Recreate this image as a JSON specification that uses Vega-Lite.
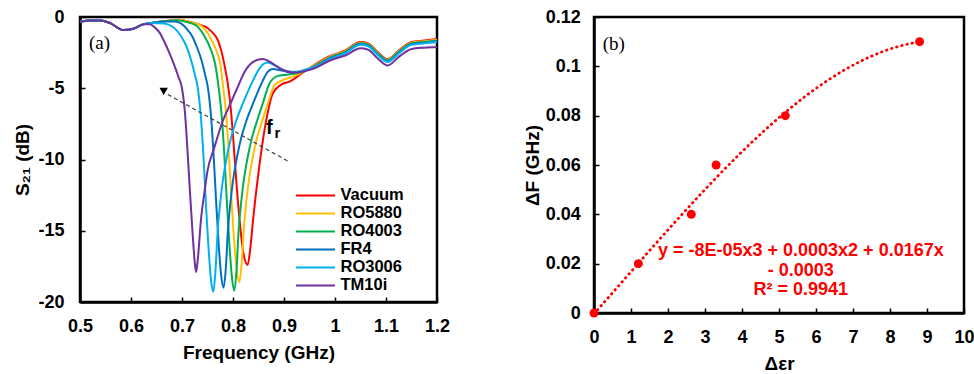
{
  "$schema": "https://vega.github.io/schema/vega-lite/v6.json",
  "padding": {"left": 12, "top": 6, "right": 0, "bottom": 0},
  "spacing": 71,
  "config": {
    "font": "Liberation Sans",
    "view": {"stroke": "#000", "strokeWidth": 2.5},
    "axis": {
      "labelFont": "Liberation Sans", "labelFontSize": 18, "labelFontWeight": "bold", "labelColor": "#000",
      "titleFont": "Liberation Sans", "titleFontSize": 19, "titleFontWeight": "bold", "titleColor": "#000",
      "domainColor": "#000", "domainWidth": 2.5, "tickColor": "#000", "tickWidth": 1.5, "tickSize": -5,
      "grid": false, "labelFlush": false, "labelOverlap": false
    }
  },
  "datasets": {
    "curves": [
      {"s":"Vacuum","f":0.5,"v":-0.32},{"s":"Vacuum","f":0.52,"v":-0.24},{"s":"Vacuum","f":0.54,"v":-0.24},{"s":"Vacuum","f":0.56,"v":-0.45},{"s":"Vacuum","f":0.585,"v":-0.92},{"s":"Vacuum","f":0.605,"v":-0.82},{"s":"Vacuum","f":0.625,"v":-0.5},{"s":"Vacuum","f":0.64,"v":-0.42},
      {"s":"Vacuum","f":0.665,"v":-0.3},{"s":"Vacuum","f":0.69,"v":-0.2},{"s":"Vacuum","f":0.72,"v":-0.38},{"s":"Vacuum","f":0.74,"v":-0.6},{"s":"Vacuum","f":0.75,"v":-0.77},{"s":"Vacuum","f":0.76,"v":-1.1},{"s":"Vacuum","f":0.77,"v":-1.6},{"s":"Vacuum","f":0.778,"v":-2.5},{"s":"Vacuum","f":0.784,"v":-3.5},{"s":"Vacuum","f":0.789,"v":-4.5},{"s":"Vacuum","f":0.7945,"v":-6.0},{"s":"Vacuum","f":0.8,"v":-8.3},{"s":"Vacuum","f":0.806,"v":-11.3},{"s":"Vacuum","f":0.813,"v":-14.3},{"s":"Vacuum","f":0.82,"v":-16.5},{"s":"Vacuum","f":0.8288,"v":-17.4},{"s":"Vacuum","f":0.834,"v":-16.2},{"s":"Vacuum","f":0.84,"v":-14.0},{"s":"Vacuum","f":0.848,"v":-11.5},{"s":"Vacuum","f":0.858,"v":-8.8},{"s":"Vacuum","f":0.8676,"v":-6.8},{"s":"Vacuum","f":0.8776,"v":-5.4},{"s":"Vacuum","f":0.894,"v":-4.75},{"s":"Vacuum","f":0.913,"v":-4.5},{"s":"Vacuum","f":0.933,"v":-4.0},{"s":"Vacuum","f":0.96,"v":-3.35},{"s":"Vacuum","f":0.99,"v":-2.75},{"s":"Vacuum","f":1.02,"v":-2.35},{"s":"Vacuum","f":1.05,"v":-1.75},{"s":"Vacuum","f":1.065,"v":-1.85},{"s":"Vacuum","f":1.085,"v":-2.5},{"s":"Vacuum","f":1.103,"v":-2.95},{"s":"Vacuum","f":1.125,"v":-2.35},{"s":"Vacuum","f":1.15,"v":-1.75},{"s":"Vacuum","f":1.175,"v":-1.65},{"s":"Vacuum","f":1.2,"v":-1.55},

      {"s":"RO5880","f":0.5,"v":-0.32},{"s":"RO5880","f":0.52,"v":-0.24},{"s":"RO5880","f":0.54,"v":-0.24},{"s":"RO5880","f":0.56,"v":-0.45},{"s":"RO5880","f":0.585,"v":-0.92},{"s":"RO5880","f":0.605,"v":-0.82},{"s":"RO5880","f":0.625,"v":-0.5},{"s":"RO5880","f":0.64,"v":-0.42},
      {"s":"RO5880","f":0.665,"v":-0.3},{"s":"RO5880","f":0.69,"v":-0.2},{"s":"RO5880","f":0.72,"v":-0.4},{"s":"RO5880","f":0.737,"v":-0.6},{"s":"RO5880","f":0.747,"v":-0.95},{"s":"RO5880","f":0.755,"v":-1.4},{"s":"RO5880","f":0.7667,"v":-2.3},{"s":"RO5880","f":0.775,"v":-3.3},{"s":"RO5880","f":0.781,"v":-5.0},{"s":"RO5880","f":0.787,"v":-7.0},{"s":"RO5880","f":0.792,"v":-9.7},{"s":"RO5880","f":0.797,"v":-12.8},{"s":"RO5880","f":0.802,"v":-15.6},{"s":"RO5880","f":0.807,"v":-17.6},{"s":"RO5880","f":0.8124,"v":-18.6},{"s":"RO5880","f":0.817,"v":-17.3},{"s":"RO5880","f":0.821,"v":-15.0},{"s":"RO5880","f":0.826,"v":-13.0},{"s":"RO5880","f":0.831,"v":-11.5},{"s":"RO5880","f":0.839,"v":-9.8},{"s":"RO5880","f":0.847,"v":-8.5},{"s":"RO5880","f":0.858,"v":-7.2},{"s":"RO5880","f":0.869,"v":-6.0},{"s":"RO5880","f":0.881,"v":-4.8},{"s":"RO5880","f":0.9,"v":-4.4},{"s":"RO5880","f":0.92,"v":-4.15},{"s":"RO5880","f":0.94,"v":-3.8},{"s":"RO5880","f":0.96,"v":-3.4},{"s":"RO5880","f":0.99,"v":-2.8},{"s":"RO5880","f":1.02,"v":-2.4},{"s":"RO5880","f":1.05,"v":-1.8},{"s":"RO5880","f":1.065,"v":-1.9},{"s":"RO5880","f":1.085,"v":-2.55},{"s":"RO5880","f":1.103,"v":-3.0},{"s":"RO5880","f":1.125,"v":-2.4},{"s":"RO5880","f":1.15,"v":-1.8},{"s":"RO5880","f":1.175,"v":-1.7},{"s":"RO5880","f":1.2,"v":-1.6},

      {"s":"RO4003","f":0.5,"v":-0.32},{"s":"RO4003","f":0.52,"v":-0.24},{"s":"RO4003","f":0.54,"v":-0.24},{"s":"RO4003","f":0.56,"v":-0.45},{"s":"RO4003","f":0.585,"v":-0.92},{"s":"RO4003","f":0.605,"v":-0.82},{"s":"RO4003","f":0.625,"v":-0.5},{"s":"RO4003","f":0.64,"v":-0.42},
      {"s":"RO4003","f":0.665,"v":-0.3},{"s":"RO4003","f":0.69,"v":-0.22},{"s":"RO4003","f":0.715,"v":-0.4},{"s":"RO4003","f":0.728,"v":-0.6},{"s":"RO4003","f":0.737,"v":-0.95},{"s":"RO4003","f":0.745,"v":-1.4},{"s":"RO4003","f":0.7567,"v":-2.3},{"s":"RO4003","f":0.765,"v":-3.3},{"s":"RO4003","f":0.772,"v":-5.0},{"s":"RO4003","f":0.778,"v":-7.0},{"s":"RO4003","f":0.783,"v":-9.7},{"s":"RO4003","f":0.788,"v":-13.0},{"s":"RO4003","f":0.793,"v":-16.0},{"s":"RO4003","f":0.798,"v":-18.3},{"s":"RO4003","f":0.8026,"v":-19.2},{"s":"RO4003","f":0.807,"v":-17.7},{"s":"RO4003","f":0.811,"v":-15.0},{"s":"RO4003","f":0.816,"v":-13.0},{"s":"RO4003","f":0.821,"v":-11.5},{"s":"RO4003","f":0.829,"v":-9.8},{"s":"RO4003","f":0.837,"v":-8.5},{"s":"RO4003","f":0.848,"v":-7.2},{"s":"RO4003","f":0.859,"v":-6.0},{"s":"RO4003","f":0.871,"v":-4.7},{"s":"RO4003","f":0.887,"v":-4.15},{"s":"RO4003","f":0.905,"v":-4.05},{"s":"RO4003","f":0.925,"v":-3.95},{"s":"RO4003","f":0.945,"v":-3.7},{"s":"RO4003","f":0.96,"v":-3.45},{"s":"RO4003","f":0.99,"v":-2.85},{"s":"RO4003","f":1.02,"v":-2.45},{"s":"RO4003","f":1.05,"v":-1.85},{"s":"RO4003","f":1.065,"v":-1.95},{"s":"RO4003","f":1.085,"v":-2.6},{"s":"RO4003","f":1.103,"v":-3.05},{"s":"RO4003","f":1.125,"v":-2.45},{"s":"RO4003","f":1.15,"v":-1.85},{"s":"RO4003","f":1.175,"v":-1.75},{"s":"RO4003","f":1.2,"v":-1.65},

      {"s":"FR4","f":0.5,"v":-0.32},{"s":"FR4","f":0.52,"v":-0.24},{"s":"FR4","f":0.54,"v":-0.24},{"s":"FR4","f":0.56,"v":-0.45},{"s":"FR4","f":0.585,"v":-0.92},{"s":"FR4","f":0.605,"v":-0.82},{"s":"FR4","f":0.625,"v":-0.5},{"s":"FR4","f":0.64,"v":-0.42},
      {"s":"FR4","f":0.665,"v":-0.32},{"s":"FR4","f":0.685,"v":-0.32},{"s":"FR4","f":0.7,"v":-0.5},{"s":"FR4","f":0.712,"v":-0.95},{"s":"FR4","f":0.72,"v":-1.35},{"s":"FR4","f":0.728,"v":-2.0},{"s":"FR4","f":0.738,"v":-3.0},{"s":"FR4","f":0.745,"v":-4.0},{"s":"FR4","f":0.751,"v":-5.0},{"s":"FR4","f":0.757,"v":-7.0},{"s":"FR4","f":0.762,"v":-9.7},{"s":"FR4","f":0.767,"v":-13.0},{"s":"FR4","f":0.772,"v":-16.0},{"s":"FR4","f":0.777,"v":-18.2},{"s":"FR4","f":0.7817,"v":-19.0},{"s":"FR4","f":0.786,"v":-17.6},{"s":"FR4","f":0.79,"v":-15.0},{"s":"FR4","f":0.795,"v":-13.0},{"s":"FR4","f":0.8,"v":-11.5},{"s":"FR4","f":0.808,"v":-9.8},{"s":"FR4","f":0.816,"v":-8.5},{"s":"FR4","f":0.827,"v":-7.2},{"s":"FR4","f":0.839,"v":-6.1},{"s":"FR4","f":0.858,"v":-4.5},{"s":"FR4","f":0.868,"v":-3.85},{"s":"FR4","f":0.8776,"v":-3.65},{"s":"FR4","f":0.895,"v":-3.75},{"s":"FR4","f":0.915,"v":-3.9},{"s":"FR4","f":0.935,"v":-3.8},{"s":"FR4","f":0.96,"v":-3.5},{"s":"FR4","f":0.99,"v":-2.9},{"s":"FR4","f":1.02,"v":-2.5},{"s":"FR4","f":1.05,"v":-1.9},{"s":"FR4","f":1.065,"v":-2.0},{"s":"FR4","f":1.085,"v":-2.65},{"s":"FR4","f":1.103,"v":-3.1},{"s":"FR4","f":1.125,"v":-2.5},{"s":"FR4","f":1.15,"v":-1.9},{"s":"FR4","f":1.175,"v":-1.8},{"s":"FR4","f":1.2,"v":-1.7},

      {"s":"RO3006","f":0.5,"v":-0.32},{"s":"RO3006","f":0.52,"v":-0.24},{"s":"RO3006","f":0.54,"v":-0.24},{"s":"RO3006","f":0.56,"v":-0.45},{"s":"RO3006","f":0.585,"v":-0.92},{"s":"RO3006","f":0.605,"v":-0.82},{"s":"RO3006","f":0.625,"v":-0.5},{"s":"RO3006","f":0.64,"v":-0.42},
      {"s":"RO3006","f":0.665,"v":-0.45},{"s":"RO3006","f":0.68,"v":-0.65},{"s":"RO3006","f":0.69,"v":-0.95},{"s":"RO3006","f":0.698,"v":-1.35},{"s":"RO3006","f":0.708,"v":-2.0},{"s":"RO3006","f":0.7176,"v":-3.0},{"s":"RO3006","f":0.725,"v":-4.0},{"s":"RO3006","f":0.731,"v":-5.0},{"s":"RO3006","f":0.737,"v":-7.0},{"s":"RO3006","f":0.742,"v":-9.7},{"s":"RO3006","f":0.747,"v":-13.2},{"s":"RO3006","f":0.752,"v":-16.2},{"s":"RO3006","f":0.757,"v":-18.5},{"s":"RO3006","f":0.7614,"v":-19.27},{"s":"RO3006","f":0.766,"v":-17.6},{"s":"RO3006","f":0.77,"v":-15.0},{"s":"RO3006","f":0.775,"v":-13.0},{"s":"RO3006","f":0.78,"v":-11.5},{"s":"RO3006","f":0.788,"v":-9.8},{"s":"RO3006","f":0.796,"v":-8.5},{"s":"RO3006","f":0.807,"v":-7.2},{"s":"RO3006","f":0.819,"v":-6.1},{"s":"RO3006","f":0.8386,"v":-4.5},{"s":"RO3006","f":0.852,"v":-3.6},{"s":"RO3006","f":0.8676,"v":-3.2},{"s":"RO3006","f":0.885,"v":-3.45},{"s":"RO3006","f":0.905,"v":-3.8},{"s":"RO3006","f":0.925,"v":-3.85},{"s":"RO3006","f":0.945,"v":-3.65},{"s":"RO3006","f":0.96,"v":-3.5},{"s":"RO3006","f":0.99,"v":-2.95},{"s":"RO3006","f":1.02,"v":-2.55},{"s":"RO3006","f":1.05,"v":-1.95},{"s":"RO3006","f":1.065,"v":-2.05},{"s":"RO3006","f":1.085,"v":-2.7},{"s":"RO3006","f":1.103,"v":-3.15},{"s":"RO3006","f":1.125,"v":-2.55},{"s":"RO3006","f":1.15,"v":-1.95},{"s":"RO3006","f":1.175,"v":-1.85},{"s":"RO3006","f":1.2,"v":-1.75},

      {"s":"TM10i","f":0.5,"v":-0.32},{"s":"TM10i","f":0.52,"v":-0.24},{"s":"TM10i","f":0.54,"v":-0.24},{"s":"TM10i","f":0.56,"v":-0.45},{"s":"TM10i","f":0.585,"v":-0.92},{"s":"TM10i","f":0.605,"v":-0.82},{"s":"TM10i","f":0.625,"v":-0.5},
      {"s":"TM10i","f":0.637,"v":-0.5},{"s":"TM10i","f":0.647,"v":-0.75},{"s":"TM10i","f":0.656,"v":-1.1},{"s":"TM10i","f":0.665,"v":-1.7},{"s":"TM10i","f":0.675,"v":-2.5},{"s":"TM10i","f":0.685,"v":-3.4},{"s":"TM10i","f":0.693,"v":-4.2},{"s":"TM10i","f":0.7,"v":-5.0},{"s":"TM10i","f":0.706,"v":-6.8},{"s":"TM10i","f":0.711,"v":-9.5},{"s":"TM10i","f":0.716,"v":-12.5},{"s":"TM10i","f":0.721,"v":-15.3},{"s":"TM10i","f":0.7245,"v":-17.0},{"s":"TM10i","f":0.7275,"v":-17.9},{"s":"TM10i","f":0.731,"v":-17.0},{"s":"TM10i","f":0.737,"v":-14.3},{"s":"TM10i","f":0.744,"v":-12.3},{"s":"TM10i","f":0.75,"v":-10.8},{"s":"TM10i","f":0.763,"v":-9.2},{"s":"TM10i","f":0.78,"v":-7.3},{"s":"TM10i","f":0.796,"v":-6.0},{"s":"TM10i","f":0.81,"v":-4.85},{"s":"TM10i","f":0.822,"v":-3.9},{"s":"TM10i","f":0.842,"v":-3.1},{"s":"TM10i","f":0.858,"v":-2.95},{"s":"TM10i","f":0.875,"v":-3.2},{"s":"TM10i","f":0.894,"v":-3.65},{"s":"TM10i","f":0.92,"v":-3.9},{"s":"TM10i","f":0.94,"v":-3.8},{"s":"TM10i","f":0.96,"v":-3.6},{"s":"TM10i","f":0.99,"v":-3.05},{"s":"TM10i","f":1.02,"v":-2.7},{"s":"TM10i","f":1.05,"v":-2.2},{"s":"TM10i","f":1.065,"v":-2.3},{"s":"TM10i","f":1.085,"v":-2.95},{"s":"TM10i","f":1.103,"v":-3.4},{"s":"TM10i","f":1.125,"v":-2.8},{"s":"TM10i","f":1.15,"v":-2.25},{"s":"TM10i","f":1.175,"v":-2.15},{"s":"TM10i","f":1.2,"v":-2.1}
    ],
    "shift": [
      {"de": 0, "df": 0},
      {"de": 1.2, "df": 0.02},
      {"de": 2.63, "df": 0.04},
      {"de": 3.3, "df": 0.06},
      {"de": 5.17, "df": 0.08},
      {"de": 8.8, "df": 0.11}
    ],
    "one": [{}]
  },
  "hconcat": [
    {
      "width": 357,
      "height": 285,
      "layer": [
        {
          "data": {"name": "curves"},
          "mark": {"type": "line", "strokeWidth": 2, "interpolate": "monotone"},
          "encoding": {
            "x": {"field": "f", "type": "quantitative",
                  "scale": {"domain": [0.5, 1.2], "nice": false, "zero": false},
                  "axis": {"values": [0.5, 0.6, 0.7, 0.8, 0.9, 1, 1.1, 1.2], "format": ".1~f", "title": "Frequency (GHz)", "labelPadding": 20, "titlePadding": 8}},
            "y": {"field": "v", "type": "quantitative",
                  "scale": {"domain": [-20, 0], "nice": false},
                  "axis": {"values": [-20, -15, -10, -5, 0], "labelExpr": "datum.value + ''", "title": "S₂₁ (dB)", "labelPadding": 21, "titlePadding": 5}},
            "color": {"field": "s", "type": "nominal",
                      "scale": {"domain": ["Vacuum", "RO5880", "RO4003", "FR4", "RO3006", "TM10i"],
                                "range": ["#FF0000", "#FFC000", "#00B050", "#0070C0", "#00B0F0", "#7030A0"]},
                      "legend": {"orient": "none", "legendX": 215, "legendY": 170.5, "title": null,
                                 "symbolType": "stroke", "symbolSize": 1521, "symbolStrokeWidth": 2,
                                 "labelFont": "Liberation Sans", "labelFontSize": 16.5, "labelFontWeight": "bold", "labelColor": "#000",
                                 "labelOffset": 4.5, "symbolOffset": 0, "clipHeight": 15.8, "rowPadding": 0, "padding": 0, "labelLimit": 200}}
          }
        },
        {
          "data": {"name": "one"},
          "mark": {"type": "rule", "strokeDash": [4, 3], "color": "#404040", "strokeWidth": 1.2},
          "encoding": {
            "x": {"datum": 0.907, "type": "quantitative", "axis": {"values": [0.5, 0.6, 0.7, 0.8, 0.9, 1, 1.1, 1.2], "format": ".1~f", "title": "Frequency (GHz)", "labelPadding": 20, "titlePadding": 8}},
            "y": {"datum": -10.1, "type": "quantitative", "axis": {"values": [-20, -15, -10, -5, 0], "labelExpr": "datum.value + ''", "title": "S₂₁ (dB)", "labelPadding": 21, "titlePadding": 5}},
            "x2": {"datum": 0.668}, "y2": {"datum": -5.35}}
        },
        {
          "data": {"name": "one"},
          "mark": {"type": "point", "shape": "triangle-up", "filled": true, "color": "#000", "opacity": 1, "size": 70, "angle": 300},
          "encoding": {
            "x": {"datum": 0.662, "type": "quantitative", "axis": {"values": [0.5, 0.6, 0.7, 0.8, 0.9, 1, 1.1, 1.2], "format": ".1~f", "title": "Frequency (GHz)", "labelPadding": 20, "titlePadding": 8}},
            "y": {"datum": -5.1, "type": "quantitative", "axis": {"values": [-20, -15, -10, -5, 0], "labelExpr": "datum.value + ''", "title": "S₂₁ (dB)", "labelPadding": 21, "titlePadding": 5}}}
        },
        {
          "data": {"name": "one"},
          "mark": {"type": "text", "text": "f", "font": "Liberation Sans", "fontWeight": "bold", "fontSize": 20, "align": "left", "baseline": "alphabetic", "color": "#000"},
          "encoding": {
            "x": {"datum": 0.8647, "type": "quantitative", "axis": {"values": [0.5, 0.6, 0.7, 0.8, 0.9, 1, 1.1, 1.2], "format": ".1~f", "title": "Frequency (GHz)", "labelPadding": 20, "titlePadding": 8}},
            "y": {"datum": -8.22, "type": "quantitative", "axis": {"values": [-20, -15, -10, -5, 0], "labelExpr": "datum.value + ''", "title": "S₂₁ (dB)", "labelPadding": 21, "titlePadding": 5}}}
        },
        {
          "data": {"name": "one"},
          "mark": {"type": "text", "text": "r", "font": "Liberation Sans", "fontWeight": "bold", "fontSize": 15, "align": "left", "baseline": "alphabetic", "color": "#000"},
          "encoding": {
            "x": {"datum": 0.8814, "type": "quantitative", "axis": {"values": [0.5, 0.6, 0.7, 0.8, 0.9, 1, 1.1, 1.2], "format": ".1~f", "title": "Frequency (GHz)", "labelPadding": 20, "titlePadding": 8}},
            "y": {"datum": -8.5, "type": "quantitative", "axis": {"values": [-20, -15, -10, -5, 0], "labelExpr": "datum.value + ''", "title": "S₂₁ (dB)", "labelPadding": 21, "titlePadding": 5}}}
        },
        {
          "data": {"name": "one"},
          "mark": {"type": "text", "text": "(a)", "font": "Liberation Serif", "fontSize": 19, "align": "left", "baseline": "middle", "color": "#000"},
          "encoding": {
            "x": {"datum": 0.5176, "type": "quantitative", "axis": {"values": [0.5, 0.6, 0.7, 0.8, 0.9, 1, 1.1, 1.2], "format": ".1~f", "title": "Frequency (GHz)", "labelPadding": 20, "titlePadding": 8}},
            "y": {"datum": -1.84, "type": "quantitative", "axis": {"values": [-20, -15, -10, -5, 0], "labelExpr": "datum.value + ''", "title": "S₂₁ (dB)", "labelPadding": 21, "titlePadding": 5}}}
        }
      ]
    },
    {
      "width": 370,
      "height": 296,
      "layer": [
        {
          "data": {"name": "shift"},
          "transform": [{"regression": "df", "on": "de", "method": "poly", "order": 3}],
          "mark": {"type": "line", "color": "#FF0000", "strokeWidth": 2.8, "strokeDash": [0.5, 4.8], "strokeCap": "round"},
          "encoding": {
            "x": {"field": "de", "type": "quantitative",
                  "scale": {"domain": [0, 10], "nice": false},
                  "axis": {"values": [0, 1, 2, 3, 4, 5, 6, 7, 8, 9, 10], "title": "Δεr", "labelPadding": 20, "titlePadding": 8}},
            "y": {"field": "df", "type": "quantitative",
                  "scale": {"domain": [0, 0.12], "nice": false},
                  "axis": {"values": [0, 0.02, 0.04, 0.06, 0.08, 0.1, 0.12], "format": ".2~f", "title": "ΔF (GHz)", "labelPadding": 18.7, "titlePadding": 3}}
          }
        },
        {
          "data": {"name": "shift"},
          "mark": {"type": "circle", "color": "#FF0000", "opacity": 1, "size": 80},
          "encoding": {
            "x": {"field": "de", "type": "quantitative",
                  "axis": {"values": [0, 1, 2, 3, 4, 5, 6, 7, 8, 9, 10], "title": "Δεr", "labelPadding": 20, "titlePadding": 8}},
            "y": {"field": "df", "type": "quantitative",
                  "axis": {"values": [0, 0.02, 0.04, 0.06, 0.08, 0.1, 0.12], "format": ".2~f", "title": "ΔF (GHz)", "labelPadding": 18.7, "titlePadding": 3}}
          }
        },
        {
          "data": {"name": "one"},
          "mark": {"type": "text", "text": ["y = -8E-05x3 + 0.0003x2 + 0.0167x", "- 0.0003", "R² = 0.9941"], "lineHeight": 19.5,
                   "font": "Liberation Sans", "fontWeight": "bold", "fontSize": 18, "align": "center", "baseline": "top", "color": "#FF0000"},
          "encoding": {
            "x": {"datum": 5.59, "type": "quantitative", "axis": {"values": [0, 1, 2, 3, 4, 5, 6, 7, 8, 9, 10], "title": "Δεr", "labelPadding": 20, "titlePadding": 8}},
            "y": {"datum": 0.0287, "type": "quantitative", "axis": {"values": [0, 0.02, 0.04, 0.06, 0.08, 0.1, 0.12], "format": ".2~f", "title": "ΔF (GHz)", "labelPadding": 18.7, "titlePadding": 3}}}
        },
        {
          "data": {"name": "one"},
          "mark": {"type": "text", "text": "(b)", "font": "Liberation Serif", "fontSize": 19, "align": "left", "baseline": "middle", "color": "#000"},
          "encoding": {
            "x": {"datum": 0.235, "type": "quantitative", "axis": {"values": [0, 1, 2, 3, 4, 5, 6, 7, 8, 9, 10], "title": "Δεr", "labelPadding": 20, "titlePadding": 8}},
            "y": {"datum": 0.109, "type": "quantitative", "axis": {"values": [0, 0.02, 0.04, 0.06, 0.08, 0.1, 0.12], "format": ".2~f", "title": "ΔF (GHz)", "labelPadding": 18.7, "titlePadding": 3}}}
        }
      ]
    }
  ]
}
